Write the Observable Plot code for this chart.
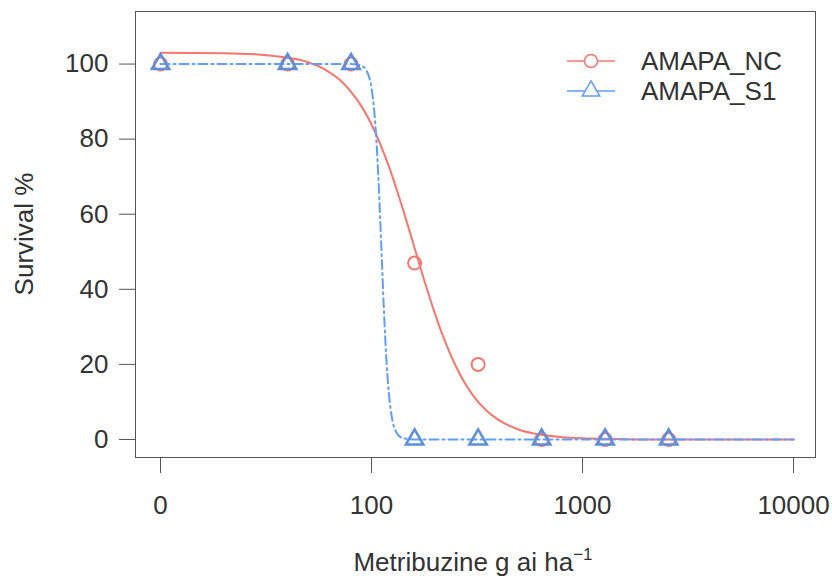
<!DOCTYPE html>
<html><head><meta charset="utf-8">
<script src="https://cdn.jsdelivr.net/npm/d3@7"></script>
<script src="https://cdn.jsdelivr.net/npm/@observablehq/plot@0.6"></script>
<style>
body{margin:0;background:#fff;}
#chart svg{display:block;}
</style></head><body><div id="chart"></div>
<script>
// observed data
const doses = [0, 40, 80, 160, 320, 640, 1280, 2560];
const ncSurvival = [100, 100, 100, 47, 20, 0, 0, 0];
const s1Survival = [100, 100, 100, 0, 0, 0, 0, 0];

// fitted curves
const ncCurveDose = [0, 20, 30, 40, 50, 60, 70, 80, 90, 100, 110, 120, 130, 140, 150, 160, 180, 200, 225, 250, 275, 300, 350, 400, 500, 600, 800, 1000, 1500, 2000, 5000, 10000];
const ncCurveSurv = [103.0, 102.9, 102.5, 101.7, 100.5, 98.6, 96.0, 92.6, 88.6, 83.9, 78.7, 73.2, 67.5, 61.8, 56.3, 51.0, 41.4, 33.4, 25.6, 19.7, 15.3, 12.0, 7.7, 5.2, 2.6, 1.5, 0.6, 0.3, 0.1, 0.0, 0.0, 0.0];
const s1CurveDose = [0, 40, 80, 85, 90, 95, 100, 103, 106, 109, 112, 115, 118, 121, 125, 130, 140, 160, 200, 10000];
const s1CurveSurv = [100, 100, 100, 99.9, 99.5, 98.1, 93.5, 87.5, 77.5, 63.5, 47.3, 31.9, 19.9, 11.9, 5.7, 2.3, 0.4, 0.0, 0.0, 0.0];

const seriesNames = ["AMAPA_NC", "AMAPA_S1"];
const seriesColors = ["#F8766D", "#619CFF"];

const xTickValues = [0, 100, 1000, 10000];
const xTickLabels = ["0", "100", "1000", "10000"];
const yTickValues = [0, 20, 40, 60, 80, 100];

const yTitle = "Survival %";
const xTitle = "Metribuzine g ai ha";
const xTitleSup = "\u22121";

// zero dose is drawn at the axis break (10)
const pos = d => d === 0 ? 10 : d;
const pts = (xs, ys) => xs.map((d, i) => ({x: pos(d), y: ys[i]}));

const ncPoints = pts(doses, ncSurvival);
const s1Points = pts(doses, s1Survival);
const ncCurve = pts(ncCurveDose, ncCurveSurv);
const s1Curve = pts(s1CurveDose, s1CurveSurv);
const xLabelMap = new Map(xTickValues.map((d, i) => [pos(d), xTickLabels[i]]));

const FONT = "'Liberation Sans', Arial, Helvetica, sans-serif";
const FS = 26;

const plot = Plot.plot({
  width: 832, height: 584,
  marginLeft: 135, marginRight: 17, marginTop: 11, marginBottom: 127,
  style: {fontFamily: FONT, fontSize: FS + "px", color: "#333", background: "#fff"},
  x: {type: "log", domain: [7.61, 12706]},
  y: {domain: [-4.8, 114]},
  marks: [
    Plot.frame({stroke: "#555"}),
    Plot.axisX(xTickValues.map(pos), {tickSize: 16, tickPadding: 22, fontSize: FS, tickFormat: d => xLabelMap.get(d), label: null, stroke: "#555"}),
    Plot.axisY(yTickValues, {tickSize: 16, tickPadding: 11, fontSize: FS, label: null, stroke: "#555"}),
    Plot.line(ncCurve, {x: "x", y: "y", stroke: seriesColors[0], strokeWidth: 2, curve: "monotone-x"}),
    Plot.line(s1Curve, {x: "x", y: "y", stroke: seriesColors[1], strokeWidth: 2, strokeDasharray: "9,4,2,4", curve: "monotone-x"}),
    Plot.dot(ncPoints, {x: "x", y: "y", r: 6.5, stroke: seriesColors[0], strokeWidth: 2, fill: "none"}),
    Plot.dot(s1Points, {x: "x", y: "y", r: 6.5, symbol: "triangle", stroke: "#5B8FDB", strokeWidth: 2.5, fill: "none"})
  ]
});

const svg = d3.select(plot);
// axis titles
svg.append("text")
  .attr("transform", "translate(33,234) rotate(-90)")
  .attr("text-anchor", "middle")
  .attr("font-family", FONT).attr("font-size", FS).attr("fill", "#333")
  .text(yTitle);
const xt = svg.append("text")
  .attr("x", 473).attr("y", 571)
  .attr("text-anchor", "middle")
  .attr("font-family", FONT).attr("font-size", FS).attr("fill", "#333");
xt.append("tspan").text(xTitle);
xt.append("tspan").attr("dy", -11).attr("font-size", 17).text(xTitleSup);

// legend
const legendRows = [61, 91];
const lg = svg.append("g").attr("font-family", FONT).attr("font-size", FS).attr("fill", "#333").attr("text-anchor", "start");
seriesNames.forEach((name, i) => {
  const y = legendRows[i];
  lg.append("line").attr("x1", 567).attr("x2", 615).attr("y1", y).attr("y2", y)
    .attr("stroke", seriesColors[i]).attr("stroke-width", 1.5);
  lg.append("path")
    .attr("transform", `translate(591,${y})`)
    .attr("d", d3.symbol(i === 0 ? d3.symbolCircle : d3.symbolTriangle, Math.PI * 6.5 * 6.5)())
    .attr("fill", "#fff").attr("stroke", seriesColors[i]).attr("stroke-width", 1.5);
  lg.append("text").attr("x", 641).attr("y", y).attr("dy", "0.35em").attr("text-anchor", "start").text(name);
});

document.getElementById("chart").appendChild(plot);
</script>
</body></html>
